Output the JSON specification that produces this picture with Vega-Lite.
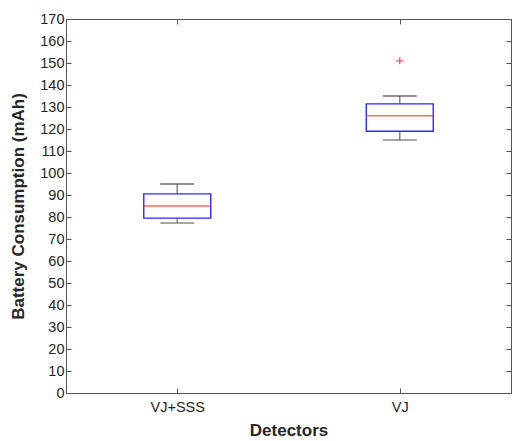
{
  "$schema": "https://vega.github.io/schema/vega-lite/v6.json",
  "width": 445,
  "height": 374,
  "autosize": {"type": "none"},
  "padding": {"left": 66, "top": 19, "right": 1, "bottom": 48},
  "background": "white",
  "config": {
    "view": {"stroke": "#555555", "strokeWidth": 1},
    "axis": {
      "domainColor": "#555555",
      "tickColor": "#555555",
      "labelColor": "#262626",
      "titleColor": "#262626",
      "labelFont": "Liberation Sans",
      "titleFont": "Liberation Sans",
      "labelFontSize": 14.5,
      "titleFontSize": 17,
      "titleFontWeight": "bold",
      "grid": false
    }
  },
  "datasets": {
    "boxes": [
      {"detector": "VJ+SSS", "lower": 77.3, "q1": 79.5, "median": 85, "q3": 90.5, "upper": 95},
      {"detector": "VJ", "lower": 115, "q1": 119, "median": 126, "q3": 131.4, "upper": 135}
    ],
    "outliers": [
      {"detector": "VJ", "value": 151}
    ]
  },
  "data": {"name": "boxes"},
  "layer": [
    {
      "mark": {"type": "rule", "color": "#8a8a8a", "strokeWidth": 1.6},
      "encoding": {
        "x": {
          "field": "detector", "type": "nominal", "sort": ["VJ+SSS", "VJ"],
          "scale": {"type": "point", "padding": 0.5},
          "axis": {"title": "Detectors", "labelAngle": 0, "tickSize": -5, "labelPadding": 12, "titlePadding": 9}
        },
        "y": {"field": "lower", "type": "quantitative", "scale": {"domain": [0, 170], "nice": false},
          "axis": {"title": "Battery Consumption (mAh)", "values": [0,10,20,30,40,50,60,70,80,90,100,110,120,130,140,150,160,170], "tickSize": -5, "labelPadding": 7, "titlePadding": 12}},
        "y2": {"field": "q1"}
      }
    },
    {
      "mark": {"type": "rule", "color": "#8a8a8a", "strokeWidth": 1.6},
      "encoding": {
        "x": {"field": "detector", "type": "nominal", "sort": ["VJ+SSS", "VJ"], "axis": null},
        "y": {"field": "q3", "type": "quantitative", "axis": null},
        "y2": {"field": "upper"}
      }
    },
    {
      "mark": {"type": "tick", "color": "#333333", "size": 34, "thickness": 1.3},
      "encoding": {
        "x": {"field": "detector", "type": "nominal", "sort": ["VJ+SSS", "VJ"], "axis": null},
        "y": {"field": "upper", "type": "quantitative", "axis": null}
      }
    },
    {
      "mark": {"type": "tick", "color": "#555555", "size": 34, "thickness": 1.6},
      "encoding": {
        "x": {"field": "detector", "type": "nominal", "sort": ["VJ+SSS", "VJ"], "axis": null},
        "y": {"field": "lower", "type": "quantitative", "axis": null}
      }
    },
    {
      "mark": {"type": "bar", "size": 67, "fill": "white", "fillOpacity": 0, "stroke": "#2a2aff", "strokeWidth": 1.4},
      "encoding": {
        "x": {"field": "detector", "type": "nominal", "sort": ["VJ+SSS", "VJ"], "axis": null},
        "y": {"field": "q1", "type": "quantitative", "axis": null},
        "y2": {"field": "q3"}
      }
    },
    {
      "mark": {"type": "tick", "color": "#ff2a2a", "size": 67, "thickness": 1.4},
      "encoding": {
        "x": {"field": "detector", "type": "nominal", "sort": ["VJ+SSS", "VJ"], "axis": null},
        "y": {"field": "median", "type": "quantitative", "axis": null}
      }
    },
    {
      "data": {"name": "outliers"},
      "mark": {"type": "point", "shape": "M-1,0H1M0,-1V1", "size": 50, "stroke": "#e01010", "strokeWidth": 1.3, "filled": false},
      "encoding": {
        "x": {"field": "detector", "type": "nominal", "sort": ["VJ+SSS", "VJ"], "axis": null},
        "y": {"field": "value", "type": "quantitative", "axis": null}
      }
    },
    {
      "mark": {"type": "rule", "opacity": 0},
      "encoding": {
        "x": {"field": "detector", "type": "nominal", "sort": ["VJ+SSS", "VJ"],
          "axis": {"orient": "top", "title": null, "labels": false, "tickSize": -5, "domain": true}},
        "y": {"field": "median", "type": "quantitative",
          "axis": {"orient": "right", "title": null, "labels": false, "values": [0,10,20,30,40,50,60,70,80,90,100,110,120,130,140,150,160,170], "tickSize": -5, "domain": true}}
      }
    }
  ],
  "resolve": {"axis": {"x": "independent", "y": "independent"}, "scale": {"x": "shared", "y": "shared"}}
}
